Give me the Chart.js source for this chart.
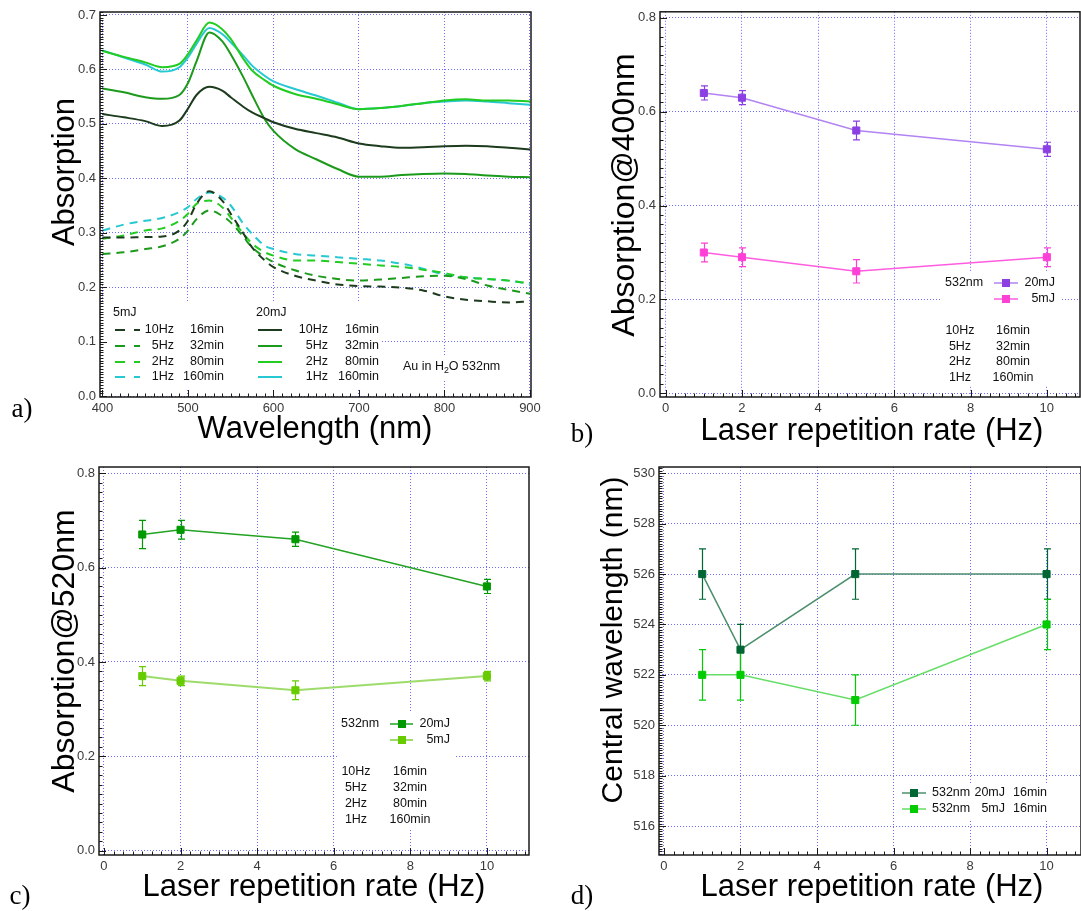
<!DOCTYPE html>
<html><head><meta charset="utf-8">
<script src="https://cdn.jsdelivr.net/npm/chart.js@4/dist/chart.umd.min.js"></script>
<style>
html,body{margin:0;padding:0;background:#fff;width:1081px;height:911px;overflow:hidden}
canvas{position:absolute}
</style></head><body>
<canvas id="ca" width="545" height="455" style="left:0;top:0"></canvas>
<canvas id="cb" width="536" height="455" style="left:545px;top:0"></canvas>
<canvas id="cc" width="545" height="456" style="left:0;top:455px"></canvas>
<canvas id="cd" width="536" height="456" style="left:545px;top:455px"></canvas>
<script>
// ---------------- DATA ----------------
// panel a: absorption spectra
const wavelengths = [400,425,450,470,490,500,510,525,540,550,565,575,590,600,625,650,675,700,725,750,775,800,825,850,875,900];
const abs20_10Hz = [0.518,0.512,0.505,0.496,0.506,0.528,0.553,0.568,0.561,0.549,0.531,0.521,0.510,0.503,0.491,0.483,0.475,0.464,0.459,0.456,0.457,0.459,0.460,0.459,0.456,0.453];
const abs20_5Hz  = [0.565,0.558,0.549,0.546,0.553,0.575,0.615,0.668,0.652,0.628,0.585,0.553,0.508,0.487,0.454,0.435,0.417,0.403,0.403,0.406,0.408,0.409,0.408,0.405,0.403,0.402];
const abs20_2Hz  = [0.634,0.623,0.613,0.604,0.610,0.628,0.653,0.686,0.674,0.656,0.619,0.598,0.580,0.570,0.555,0.546,0.536,0.527,0.529,0.533,0.538,0.543,0.545,0.543,0.543,0.541];
const abs20_1Hz  = [0.635,0.622,0.609,0.596,0.604,0.622,0.647,0.676,0.665,0.650,0.625,0.607,0.588,0.578,0.564,0.552,0.539,0.527,0.529,0.533,0.538,0.541,0.543,0.541,0.538,0.535];
const abs5_10Hz  = [0.291,0.291,0.292,0.293,0.304,0.322,0.353,0.376,0.359,0.335,0.298,0.273,0.249,0.237,0.221,0.212,0.205,0.202,0.201,0.199,0.194,0.183,0.177,0.174,0.172,0.174];
const abs5_5Hz   = [0.261,0.264,0.270,0.275,0.289,0.304,0.325,0.341,0.331,0.319,0.292,0.273,0.255,0.246,0.231,0.221,0.215,0.212,0.214,0.217,0.220,0.221,0.215,0.203,0.195,0.188];
const abs5_2Hz   = [0.289,0.295,0.304,0.308,0.322,0.335,0.353,0.359,0.347,0.328,0.298,0.280,0.264,0.258,0.249,0.249,0.246,0.243,0.240,0.237,0.232,0.226,0.218,0.215,0.212,0.207];
const abs5_1Hz   = [0.304,0.315,0.322,0.327,0.338,0.347,0.362,0.374,0.365,0.350,0.316,0.298,0.276,0.270,0.261,0.258,0.255,0.252,0.249,0.243,0.234,0.223,0.218,0.215,0.212,0.206];
// panels b-d
const rateHz = [1,2,5,10];
const abs400_20mJ = [0.64,0.63,0.56,0.52];
const abs400_20mJ_err = [0.015,0.015,0.02,0.015];
const abs400_5mJ = [0.30,0.29,0.26,0.29];
const abs400_5mJ_err = [0.02,0.02,0.025,0.02];
const abs520_20mJ = [0.67,0.68,0.66,0.56];
const abs520_20mJ_err = [0.03,0.02,0.015,0.015];
const abs520_5mJ = [0.37,0.36,0.34,0.37];
const abs520_5mJ_err = [0.02,0.01,0.02,0.01];
const cwl_20mJ = [526,523,526,526];
const cwl_20mJ_err = [1,1,1,1];
const cwl_5mJ = [522,522,521,524];
const cwl_5mJ_err = [1,1,1,1];
// tick labels
const aXTicks = [400,500,600,700,800,900];
const aYTicks = [0,0.1,0.2,0.3,0.4,0.5,0.6,0.7];
const rateTicks = [0,2,4,6,8,10];
const absTicks = [0,0.2,0.4,0.6,0.8];
const cwlTicks = [516,518,520,522,524,526,528,530];
// legend text
const hzLabels = ['10Hz','5Hz','2Hz','1Hz'];
const minLabels = ['16min','32min','80min','160min'];

// ---------------- STYLE ----------------
const FONT = '"Liberation Sans", Arial, Helvetica, sans-serif';
const SERIF = '"Liberation Serif", "DejaVu Serif", serif';
const GRID = '#6e6eff';
Chart.defaults.font.family = FONT;
const C10 = '#1d3b1d', C5 = '#1c9a1c', C2 = '#22cc22', C1 = '#26c8d2';

function pts(xs, ys){ return xs.map((x,i)=>({x:x, y:ys[i]})); }

function sc(min, max, ticks, fmt, size){
  return {
    type:'linear', min:min, max:max,
    afterBuildTicks: s => { s.ticks = ticks.map(v => ({value:v})); },
    afterFit: s => { if (s.isHorizontal()) s.height = size; else s.width = size; },
    grid: {color: GRID, lineWidth: 1, drawTicks: false},
    border: {display: false, dash: [1,2]},
    ticks: {autoSkip:false, maxRotation:0, padding:4, color:'#3a3a3a', font:{family:FONT, size:13}, callback: fmt}
  };
}

function drawT(ctx, t){
  ctx.save();
  ctx.fillStyle = t.color || '#111';
  ctx.textBaseline = 'middle';
  ctx.translate(t.x, t.y);
  if (t.rot) ctx.rotate(t.rot * Math.PI/180);
  const font = (t.size||12.5) + 'px ' + (t.family || FONT);
  if (t.parts){
    let x = 0;
    t.parts.forEach(p => {
      const sz = p.sub ? (t.size||12.5)*0.7 : (t.size||12.5);
      ctx.font = sz + 'px ' + (t.family || FONT);
      ctx.textAlign = 'left';
      ctx.fillText(p.text, x, p.sub ? 4 : 0);
      x += ctx.measureText(p.text).width;
    });
  } else {
    ctx.font = font;
    ctx.textAlign = t.align || 'left';
    ctx.fillText(t.text, 0, 0);
  }
  ctx.restore();
}

const decor = {
  id: 'decor',
  beforeDatasetsDraw(chart, args, o){
    const ctx = chart.ctx;
    ctx.save();
    ctx.fillStyle = '#fff';
    (o.masks||[]).forEach(m => ctx.fillRect(m[0], m[1], m[2]-m[0], m[3]-m[1]));
    ctx.restore();
    const xs = chart.scales.x, ys = chart.scales.y;
    chart.data.datasets.forEach(ds => {
      if (!ds.errors) return;
      ctx.save();
      ctx.strokeStyle = ds.pointBackgroundColor; ctx.lineWidth = 1.2;
      ds.data.forEach((p, j) => {
        const e = ds.errors[j];
        const px = Math.round(xs.getPixelForValue(p.x)) + 0.5;
        const y1 = ys.getPixelForValue(p.y + e), y2 = ys.getPixelForValue(p.y - e);
        ctx.beginPath();
        ctx.moveTo(px, y1); ctx.lineTo(px, y2);
        ctx.moveTo(px-3.5, y1); ctx.lineTo(px+3.5, y1);
        ctx.moveTo(px-3.5, y2); ctx.lineTo(px+3.5, y2);
        ctx.stroke();
      });
      ctx.restore();
    });
  },
  afterDatasetsDraw(chart, args, o){
    const ctx = chart.ctx, a = chart.chartArea, xs = chart.scales.x, ys = chart.scales.y;
    ctx.save();
    ctx.strokeStyle = '#1a1a1a'; ctx.lineWidth = 1;
    ctx.beginPath();
    const drawTicks = (s, step, majors, horiz) => {
      const n0 = Math.ceil(s.min/step - 1e-6), n1 = Math.floor(s.max/step + 1e-6);
      for (let n = n0; n <= n1; n++){
        const v = n*step;
        const isMaj = majors.some(m => Math.abs(m - v) < step*0.01);
        const len = isMaj ? 7 : 3.5;
        if (horiz){
          const px = Math.round(s.getPixelForValue(v)) + 0.5;
          ctx.moveTo(px, a.bottom); ctx.lineTo(px, a.bottom - len);
        } else {
          const py = Math.round(ys.getPixelForValue(v)) + 0.5;
          ctx.moveTo(a.left, py); ctx.lineTo(a.left + len, py);
        }
      }
    };
    drawTicks(xs, o.xMinor, o.xMajor, true);
    drawTicks(ys, o.yMinor, o.yMajor, false);
    ctx.stroke();
    ctx.lineWidth = 1.5;
    ctx.strokeRect(a.left, a.top, a.right - a.left, a.bottom - a.top);
    ctx.restore();
  },
  afterDraw(chart, args, o){
    const ctx = chart.ctx;
    (o.samples||[]).forEach(s => {
      ctx.save();
      ctx.strokeStyle = s.color; ctx.lineWidth = s.width || 2;
      ctx.setLineDash(s.dash || []);
      ctx.beginPath(); ctx.moveTo(s.x1, s.y); ctx.lineTo(s.x2, s.y); ctx.stroke();
      if (s.marker){
        ctx.fillStyle = s.marker;
        ctx.fillRect(s.mx - 4, s.y - 4, 8, 8);
      }
      ctx.restore();
    });
    (o.texts||[]).forEach(t => drawT(ctx, t));
  }
};
Chart.register(decor);

function base(padTop, padRight){
  return {
    responsive:false, animation:false, devicePixelRatio:1,
    layout:{autoPadding:false, padding:{top:padTop, right:padRight, left:0, bottom:0}},
    plugins:{legend:{display:false}, tooltip:{enabled:false}},
    elements:{point:{radius:0}}
  };
}
const f1 = v => v.toFixed(1);
const f0 = v => String(v);

// ---------------- PANEL A ----------------
(function(){
  const specs = [
    {d:abs5_10Hz, c:C10, dash:[8,6]},
    {d:abs5_5Hz, c:C5, dash:[8,6]},
    {d:abs5_2Hz, c:C2, dash:[8,6]},
    {d:abs5_1Hz, c:C1, dash:[8,6]},
    {d:abs20_10Hz, c:C10},
    {d:abs20_5Hz, c:C5},
    {d:abs20_2Hz, c:C2},
    {d:abs20_1Hz, c:C1}
  ];
  const opt = base(12, 14);
  opt.scales = {
    x: sc(397.1, 901.2, aXTicks, f0, 58),
    y: sc(-0.0018, 0.7055, aYTicks, f1, 100)
  };
  const rows = [330,346,362,377];
  const texts = [
    {text:'Absorption', x:65, y:172, size:31, rot:-90, align:'center', color:'#000'},
    {text:'Wavelength (nm)', x:315, y:429, size:31, align:'center', color:'#000'},
    {text:'a)', x:22, y:410, size:27, family:SERIF, align:'center', color:'#000'},
    {text:'5mJ', x:113, y:313},
    {text:'20mJ', x:256, y:313},
    {parts:[{text:'Au in H'},{text:'2',sub:true},{text:'O 532nm'}], x:403, y:367}
  ];
  const samples = [];
  rows.forEach((y,i) => {
    texts.push({text:hzLabels[i], x:174, y:y, align:'right'});
    texts.push({text:minLabels[i], x:224, y:y, align:'right'});
    texts.push({text:hzLabels[i], x:328, y:y, align:'right'});
    texts.push({text:minLabels[i], x:379, y:y, align:'right'});
    samples.push({x1:115, x2:140, y:y, color:specs[i].c, dash:[10,9]});
    samples.push({x1:258, x2:282, y:y, color:specs[i+4].c});
  });
  opt.plugins.decor = {
    masks:[[102,303,382,390],[400,355,506,380]],
    xMinor:10, xMajor:aXTicks, yMinor:0.005, yMajor:aYTicks,
    texts:texts, samples:samples
  };
  new Chart(document.getElementById('ca'), {
    type:'line',
    data:{datasets: specs.map(s => ({
      data: pts(wavelengths, s.d), borderColor:s.c, borderWidth:2,
      borderDash: s.dash || [], pointRadius:0, tension:0.4, cubicInterpolationMode:'monotone', fill:false
    }))},
    options:opt
  });
})();

// ---------------- PANELS B-D ----------------
function errPanel(id, cfg){
  const opt = base(cfg.padTop, cfg.padRight);
  opt.scales = {
    x: sc(cfg.xmin, cfg.xmax, rateTicks, f0, cfg.xh),
    y: sc(cfg.ymin, cfg.ymax, cfg.yTicks, cfg.yfmt, cfg.yw)
  };
  opt.plugins.decor = {
    masks: cfg.masks, xMinor:0.25, xMajor:rateTicks, yMinor:cfg.yMinor, yMajor:cfg.yTicks,
    texts: cfg.texts, samples: cfg.samples
  };
  new Chart(document.getElementById(id), {
    type:'line',
    data:{datasets: cfg.series.map(s => ({
      data: pts(rateHz, s.d), errors: s.e,
      borderColor: s.line, borderWidth: s.lw || 1.5,
      pointStyle:'rect', pointRadius:5, pointBackgroundColor:s.mark, pointBorderColor:s.mark, pointBorderWidth:1,
      tension:0, fill:false
    }))},
    options:opt
  });
}

// b
(function(){
  const P20 = '#8c3fe3', P20L = '#b283f2', P5 = '#ff40d6', P5L = '#ff5ce0';
  const rows = [331,347,362,378];
  const texts = [
    {text:'Absorption@400nm', x:80, y:195, size:32, rot:-90, align:'center', color:'#000'},
    {text:'Laser repetition rate (Hz)', x:327, y:431, size:31, align:'center', color:'#000'},
    {text:'b)', x:37, y:435, size:27, family:SERIF, align:'center', color:'#000'},
    {text:'532nm', x:400, y:283},
    {text:'20mJ', x:510, y:283, align:'right'},
    {text:'5mJ', x:510, y:299, align:'right'}
  ];
  rows.forEach((y,i) => {
    texts.push({text:hzLabels[i], x:415, y:y, align:'center'});
    texts.push({text:minLabels[i], x:468, y:y, align:'center'});
  });
  errPanel('cb', {
    padTop:9, padRight:1, xmin:-0.15, xmax:10.87, ymin:-0.008, ymax:0.813,
    xh:58, yw:115, yTicks:absTicks, yfmt:f1, yMinor:0.02,
    masks:[[397,272,517,386]],
    series:[{d:abs400_20mJ, e:abs400_20mJ_err, mark:P20, line:P20L},
            {d:abs400_5mJ, e:abs400_5mJ_err, mark:P5, line:P5L}],
    texts:texts,
    samples:[{x1:449,x2:473,y:283,color:P20L,width:1.5,marker:P20,mx:461},
             {x1:449,x2:473,y:299,color:P5L,width:1.5,marker:P5,mx:461}]
  });
})();

// c
(function(){
  const G20 = '#009900', G20L = '#22a322', G5 = '#66cc00', G5L = '#9ddc6a';
  const rows = [317,333,349,365];
  const texts = [
    {text:'Absorption@520nm', x:65, y:196, size:32, rot:-90, align:'center', color:'#000'},
    {text:'Laser repetition rate (Hz)', x:314, y:432, size:31, align:'center', color:'#000'},
    {text:'c)', x:20, y:442, size:27, family:SERIF, align:'center', color:'#000'},
    {text:'532nm', x:341, y:269},
    {text:'20mJ', x:450, y:269, align:'right'},
    {text:'5mJ', x:450, y:285, align:'right'}
  ];
  rows.forEach((y,i) => {
    texts.push({text:hzLabels[i], x:356, y:y, align:'center'});
    texts.push({text:minLabels[i], x:410, y:y, align:'center'});
  });
  errPanel('cc', {
    padTop:12, padRight:16, xmin:-0.13, xmax:11.1, ymin:-0.009, ymax:0.813,
    xh:56, yw:99, yTicks:absTicks, yfmt:f1, yMinor:0.02,
    masks:[[338,257,456,375]],
    series:[{d:abs520_20mJ, e:abs520_20mJ_err, mark:G20, line:G20L},
            {d:abs520_5mJ, e:abs520_5mJ_err, mark:G5, line:G5L, lw:2}],
    texts:texts,
    samples:[{x1:390,x2:413,y:269,color:G20L,width:1.5,marker:G20,mx:402},
             {x1:390,x2:413,y:285,color:G5L,width:2,marker:G5,mx:402}]
  });
})();

// d
(function(){
  const D20 = '#006633', D20L = '#4d8f6d', D5 = '#00cc00', D5L = '#66dd66';
  const texts = [
    {text:'Central wavelength (nm)', x:69, y:185, size:30, rot:-90, align:'center', color:'#000'},
    {text:'Laser repetition rate (Hz)', x:327, y:432, size:31, align:'center', color:'#000'},
    {text:'d)', x:37, y:442, size:27, family:SERIF, align:'center', color:'#000'},
    {text:'532nm', x:387, y:338},
    {text:'20mJ', x:460, y:338, align:'right'},
    {text:'16min', x:468, y:338},
    {text:'532nm', x:387, y:354},
    {text:'5mJ', x:460, y:354, align:'right'},
    {text:'16min', x:468, y:354}
  ];
  errPanel('cd', {
    padTop:12, padRight:0, xmin:-0.13, xmax:10.9, ymin:514.85, ymax:530.25,
    xh:56, yw:114, yTicks:cwlTicks, yfmt:f0, yMinor:0.1,
    masks:[[353,328,507,364]],
    series:[{d:cwl_20mJ, e:cwl_20mJ_err, mark:D20, line:D20L},
            {d:cwl_5mJ, e:cwl_5mJ_err, mark:D5, line:D5L}],
    texts:texts,
    samples:[{x1:357,x2:381,y:338,color:D20L,width:1.5,marker:D20,mx:369},
             {x1:357,x2:381,y:354,color:D5L,width:1.5,marker:D5,mx:369}]
  });
})();
</script>
</body></html>
